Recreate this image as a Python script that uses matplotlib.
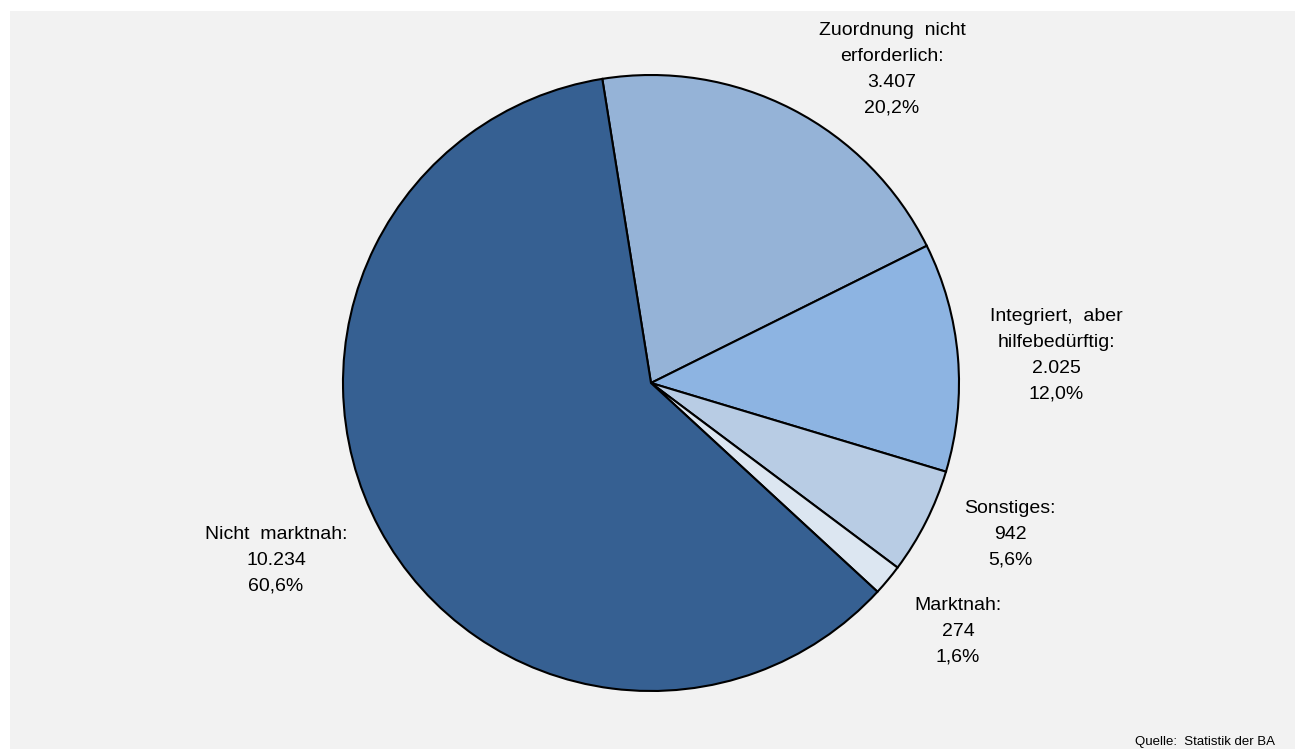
import matplotlib
matplotlib.use("Agg")
import matplotlib.pyplot as plt
from matplotlib.patches import Rectangle

plt.rcParams["font.family"] = ["Liberation Sans", "DejaVu Sans"]

# ── data ────────────────────────────────────────────────────────────────
names  = ["Zuordnung  nicht\nerforderlich:", "Integriert,  aber\nhilfebedürftig:",
          "Sonstiges:", "Marktnah:", "Nicht  marktnah:"]
counts = [3407, 2025, 942, 274, 10234]
shares = ["20,2%", "12,0%", "5,6%", "1,6%", "60,6%"]
colors = ["#95b3d7", "#8db4e2", "#b8cce4", "#dce6f1", "#366092"]

# label centres in pixels (x, y-centre of first line)
label_pos = [(892, 29), (1056, 315), (1010, 507), (958, 604), (276, 533)]

W, H = 1295, 749
fig = plt.figure(figsize=(W / 100, H / 100), dpi=100)
fig.patch.set_facecolor("white")
fig.add_artist(Rectangle((10 / W, 0), 1 - 10 / W, 1 - 11 / H,
                         transform=fig.transFigure, facecolor="#f2f2f2",
                         edgecolor="none", zorder=0))

cx, cy, r = 651, 383, 308
ax = fig.add_axes([(cx - r) / W, (H - cy - r) / H, 2 * r / W, 2 * r / H])
ax.pie(counts, colors=colors, startangle=99.1, counterclock=False,
       wedgeprops=dict(edgecolor="black", linewidth=1.5))
ax.set_aspect("equal")
ax.set_xlim(-1, 1)
ax.set_ylim(-1, 1)
ax.axis("off")

def fmt(n):
    return f"{n:,}".replace(",", ".")

for name, n, s, (px, py) in zip(names, counts, shares, label_pos):
    txt = f"{name}\n{fmt(n)}\n{s}"
    fig.text(px / W, 1 - (py - 7) / H, txt, ha="center", va="top",
             fontsize=14, linespacing=1.68, color="black")

fig.text(1275 / W, 1 - 742 / H, "Quelle:  Statistik der BA", ha="right",
         va="center", fontsize=9.5, color="black")

fig.savefig("out.png", dpi=100, facecolor=fig.get_facecolor())
